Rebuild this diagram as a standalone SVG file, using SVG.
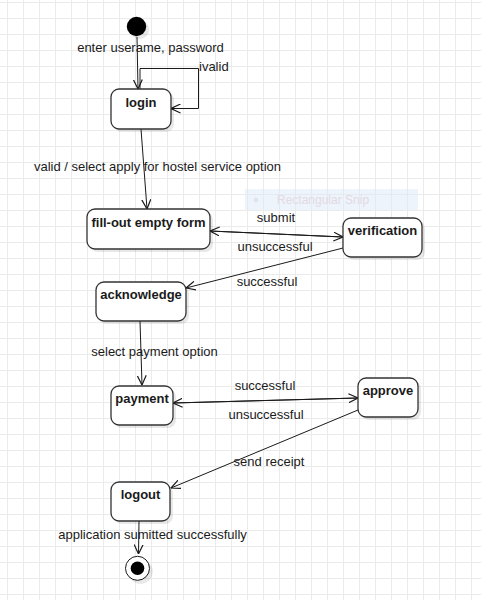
<svg xmlns="http://www.w3.org/2000/svg" width="481" height="600" viewBox="0 0 481 600">
<defs>
<pattern id="grid" x="7" y="2" width="16" height="16" patternUnits="userSpaceOnUse">
<path d="M0 0.5 H16 M0.5 0 V16" fill="none" stroke="#ebebeb" stroke-width="1"/>
</pattern>
<marker id="open" viewBox="0 0 10 10" refX="9.5" refY="5" markerWidth="10" markerHeight="10" markerUnits="userSpaceOnUse" orient="auto">
<path d="M0 0.5 L9.5 5 L0 9.5" fill="none" stroke="#1a1a1a" stroke-width="1.2"/>
</marker>
<style>
.state{fill:#ffffff;stroke:#333333;stroke-width:1.3}
.shadow{fill:#000000;fill-opacity:0.09;stroke:none}
.nlabel{font-family:"Liberation Sans",Arial,sans-serif;font-size:13px;font-weight:bold;fill:#1a1a1a;text-anchor:middle}
.elabel{font-family:"Liberation Sans",Arial,sans-serif;font-size:13px;fill:#1a1a1a;text-anchor:middle}
.edge{fill:none;stroke:#1a1a1a;stroke-width:1;marker-end:url(#open)}
</style>
</defs>
<rect x="0" y="0" width="481" height="600" fill="#ffffff"/>
<rect x="0" y="0" width="481" height="600" fill="url(#grid)"/>

<g id="snip">
<rect x="245" y="189" width="173" height="21" fill="#dbe9f8" fill-opacity="0.5"/>
<circle cx="256" cy="200" r="2.2" fill="#dde3ee"/>
<text x="277" y="204" font-family="'Liberation Sans',Arial,sans-serif" font-size="12" fill="#e3d9e3">Rectangular Snip</text>
</g>

<g id="connectors">
<line class="edge" x1="137" y1="37" x2="138" y2="89"/>
<path class="edge" d="M140 89 V68.5 H198.5 V108.5 H171" stroke="#444444" stroke-width="1.3"/>
<line class="edge" x1="141" y1="129" x2="147" y2="209"/>
<line class="edge" x1="210" y1="231" x2="343" y2="237"/>
<line class="edge" x1="343" y1="237" x2="210" y2="231"/>
<line class="edge" x1="343" y1="248" x2="186" y2="288"/>
<line class="edge" x1="140" y1="321" x2="142" y2="385"/>
<line class="edge" x1="173" y1="403" x2="358" y2="398"/>
<line class="edge" x1="358" y1="398" x2="173" y2="403"/>
<line class="edge" x1="358" y1="410" x2="171" y2="488"/>
<line class="edge" x1="139" y1="521" x2="138.5" y2="554"/>
<text class="elabel" x="150.5" y="52">enter userame, password</text>
<text class="elabel" x="199" y="71" style="text-anchor:start">ivalid</text>
<text class="elabel" x="157.5" y="171">valid / select apply for hostel service option</text>
<text class="elabel" x="276" y="222">submit</text>
<text class="elabel" x="275" y="251">unsuccessful</text>
<text class="elabel" x="267" y="286">successful</text>
<text class="elabel" x="154.5" y="356">select payment option</text>
<text class="elabel" x="265" y="390">successful</text>
<text class="elabel" x="266" y="419">unsuccessful</text>
<text class="elabel" x="269" y="466">send receipt</text>
<text class="elabel" x="152.5" y="539">application sumitted successfully</text>
</g>

<g id="initial">
<circle cx="139.5" cy="29.5" r="9.7" class="shadow"/>
<circle cx="136.5" cy="26.5" r="9.7" fill="#000000"/>
</g>

<g id="login">
<rect x="114" y="92" width="60" height="40" rx="8" class="shadow"/>
<rect x="111" y="89" width="60" height="40" rx="8" class="state"/>
<text class="nlabel" x="141" y="107">login</text>
</g>

<g id="fillout">
<rect x="90" y="212" width="123" height="40" rx="8" class="shadow"/>
<rect x="87" y="209" width="123" height="40" rx="8" class="state"/>
<text class="nlabel" x="148.5" y="227">fill-out empty form</text>
</g>

<g id="verification">
<rect x="346" y="221" width="79" height="39" rx="8" class="shadow"/>
<rect x="343" y="218" width="79" height="39" rx="8" class="state"/>
<text class="nlabel" x="382.5" y="235">verification</text>
</g>

<g id="acknowledge">
<rect x="99" y="285" width="90" height="39" rx="8" class="shadow"/>
<rect x="96" y="282" width="90" height="39" rx="8" class="state"/>
<text class="nlabel" x="141" y="299">acknowledge</text>
</g>

<g id="payment">
<rect x="114" y="389" width="62" height="39" rx="8" class="shadow"/>
<rect x="111" y="386" width="62" height="39" rx="8" class="state"/>
<text class="nlabel" x="142" y="403">payment</text>
</g>

<g id="approve">
<rect x="361" y="381" width="60" height="39" rx="8" class="shadow"/>
<rect x="358" y="378" width="60" height="39" rx="8" class="state"/>
<text class="nlabel" x="388" y="395">approve</text>
</g>

<g id="logout">
<rect x="114" y="485" width="59" height="39" rx="8" class="shadow"/>
<rect x="111" y="482" width="59" height="39" rx="8" class="state"/>
<text class="nlabel" x="140.5" y="499">logout</text>
</g>

<g id="final">
<circle cx="140.5" cy="571.5" r="12.3" class="shadow"/>
<circle cx="137.5" cy="568.3" r="12" fill="#ffffff" stroke="#1a1a1a" stroke-width="1"/>
<circle cx="137.5" cy="568.3" r="6.8" fill="#000000"/>
</g>
</svg>
